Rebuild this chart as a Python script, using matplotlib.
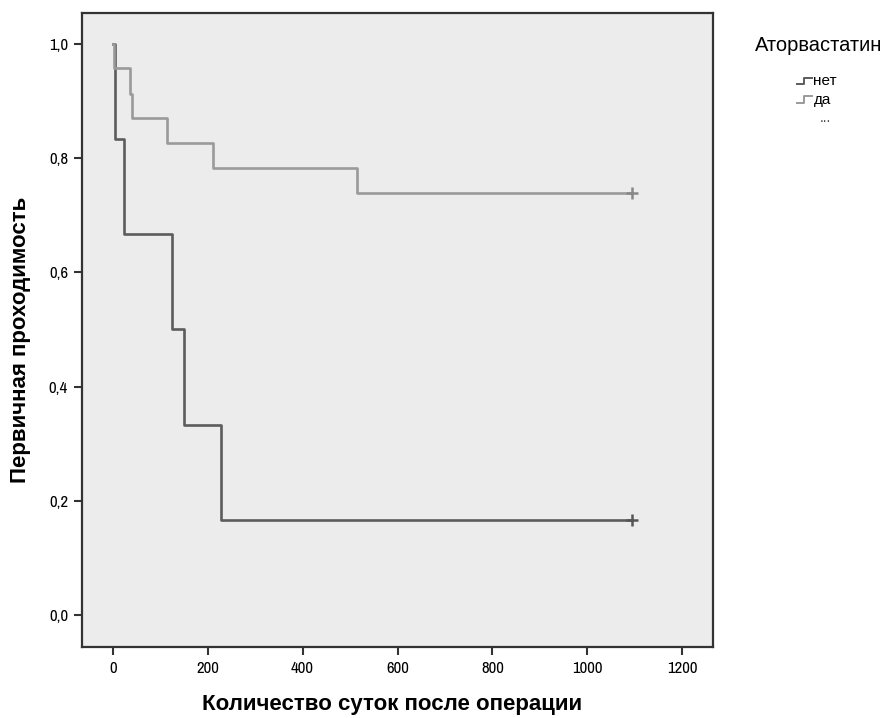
import matplotlib.pyplot as plt
from matplotlib.lines import Line2D
from matplotlib import font_manager

# narrow face for tick labels, like the SPSS original
narrow = None
for f in font_manager.fontManager.ttflist:
    if 'Narrow' in f.name:
        narrow = f.name
        break
tick_font = dict(family=[narrow, 'DejaVu Sans']) if narrow else dict(family=['DejaVu Sans'], fontstretch='condensed')
plt.rcParams['font.family'] = ['Liberation Sans', 'DejaVu Sans']

# Kaplan-Meier steps
t_net = [0, 4, 23, 124, 150, 228, 1095]
s_net = [1.0, 0.833, 0.667, 0.5, 0.333, 0.167, 0.167]
t_da = [0, 2, 37, 40, 115, 211, 515, 1095]
s_da = [1.0, 0.957, 0.913, 0.870, 0.826, 0.783, 0.739, 0.739]
cens_net = [1095]
cens_da = [1095]

groups = ['нет', 'да']
colors = ['#5c5c5c', '#9a9a9a']

fig = plt.figure(figsize=(8.87, 7.18), dpi=100)
ax = fig.add_axes([0.0924, 0.0989, 0.7115, 0.883])
ax.set_facecolor('#ececec')

ax.step(t_net, s_net, where='post', color=colors[0], lw=1.9)
ax.step(t_da, s_da, where='post', color=colors[1], lw=1.9)
ax.plot(cens_net, [s_net[-1]] * len(cens_net), '+', color='#555555', ms=9, mew=1.8)
ax.plot(cens_da, [s_da[-1]] * len(cens_da), '+', color='#888888', ms=9, mew=1.8)

ax.set_xlim(-65, 1265)
ax.set_ylim(-0.056, 1.054)
xt = [0, 200, 400, 600, 800, 1000, 1200]
yt = [0.0, 0.2, 0.4, 0.6, 0.8, 1.0]
ax.set_xticks(xt)
ax.set_xticklabels([str(v) for v in xt], fontsize=12, **tick_font)
ax.set_yticks(yt)
ax.set_yticklabels([('%.1f' % v).replace('.', ',') for v in yt], fontsize=12, **tick_font)
ax.tick_params(direction='out', length=6, width=1.5, color='#333333', pad=4)
for s in ax.spines.values():
    s.set_color('#333333')
    s.set_linewidth(1.6)

ax.set_xlabel('Количество суток после операции', fontsize=16, fontweight='bold')
ax.set_ylabel('Первичная проходимость', fontsize=16, fontweight='bold')
ax.xaxis.set_label_coords(0.491, -0.074)
ax.yaxis.set_label_coords(-0.081, 0.484)

# legend drawn by hand like SPSS
fig.text(0.851, 0.937, 'Аторвастатин', fontsize=14.5, va='center')
for i, (g, c) in enumerate(zip(groups, colors)):
    y = 0.887 - i * 0.026
    xs = [0.898, 0.906, 0.906, 0.915]
    ys = [y - 0.004, y - 0.004, y + 0.005, y + 0.005]
    fig.add_artist(Line2D(xs, ys, color=c, lw=1.4, transform=fig.transFigure))
    fig.text(0.917, y, g, fontsize=11, va='center')
fig.text(0.930, 0.835, '...', fontsize=10, color='#444444', ha='center', va='center')

fig.savefig('out.png', dpi=100)
